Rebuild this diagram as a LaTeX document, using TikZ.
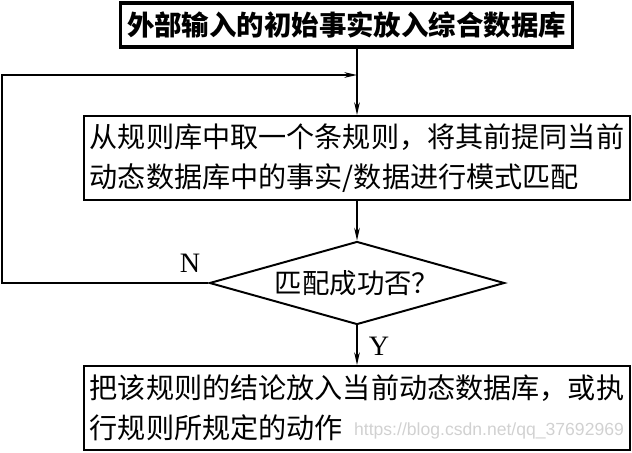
\documentclass[tikz,border=0pt]{standalone}
\usepackage{fontspec}
\newfontfamily\cjk{Noto Sans CJK SC}
\newfontfamily\latin{Liberation Serif}
\newfontfamily\marksans{Liberation Sans}
\usetikzlibrary{arrows.meta,shapes.geometric}
\begin{document}
\begin{tikzpicture}[
  x=0.025cm,y=-0.025cm,
  >={Stealth[length=9pt,width=4pt]},
  box/.style={draw,line width=1.4pt,minimum width=13.65cm,minimum height=2.1cm,
    inner sep=0pt,align=left,font=\cjk\fontsize{20}{28.5}\selectfont},
  lbl/.style={font=\latin\fontsize{20}{22}\selectfont},
  every node/.style={text=black}
]
\useasboundingbox (0,0) rectangle (632,453);
% --- Nodes ---
\node[draw,line width=2.4pt,minimum width=11.3cm,minimum height=1.1cm,inner sep=0pt,
  font=\cjk\bfseries\fontsize{19.5}{22}\selectfont] (IN) at (346.5,25) {外部输入的初始事实放入综合数据库};

\node[box] (MATCH) at (357,158) {从规则库中取一个条规则，将其前提同当前\\动态数据库中的事实/数据进行模式匹配};

\node[draw,diamond,aspect=3.55,line width=1.4pt,minimum width=7.375cm,minimum height=2.075cm,
  inner sep=0pt,font=\cjk\fontsize{19.5}{21}\selectfont] (OK) at (357,283) {匹配成功否？};

\node[box] (ACT) at (357,408) {把该规则的结论放入当前动态数据库，或执\\行规则所规定的动作};

\node[font=\marksans\fontsize{12.5}{14}\selectfont,text=black!18] (mark) at (489,431) {https://blog.csdn.net/qq\_37692969};

% labels
\node[lbl] (N) at (190,263) {N};
\node[lbl] (Y) at (379,346) {Y};

% loop corners
\coordinate (join) at (357,75);
\coordinate (LB) at (2,283);
\coordinate (LT) at (2,75);

% --- Arrows ---
\draw[->,line width=1pt] (IN.south -| MATCH.north) -- (MATCH.north);
\draw[->,line width=1pt] (MATCH.south) -- (OK.north);
\draw[->,line width=1pt] (OK.south) -- (ACT.north);
% N branch back to the top
\draw[->,line width=1pt] (OK.west) -- (LB) -- (LT) -- (join);

\end{tikzpicture}
\end{document}
